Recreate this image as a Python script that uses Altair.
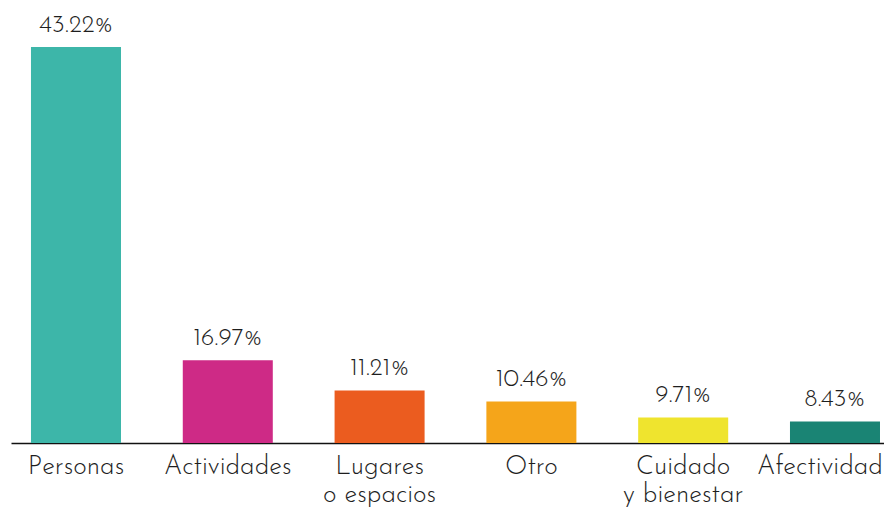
import altair as alt
import pandas as pd

categories = ["Personas", "Actividades", "Lugares|o espacios", "Otro", "Cuidado|y bienestar", "Afectividad"]
values = [43.22, 16.97, 11.21, 10.46, 9.71, 8.43]
# bar lengths as drawn in the reference (not proportional to the values), in % units of the tallest bar
drawn_length = [43.22, 9.02, 5.74, 4.54, 2.79, 2.35]
labels = ["43.22%", "16.97%", "11.21%", "10.46%", "9.71%", "8.43%"]
colors = ["#3DB6A9", "#CE2A86", "#EB5C1F", "#F5A51A", "#EFE42E", "#1A8474"]

df = pd.DataFrame({"cat": categories, "val": values, "len": drawn_length, "lab": labels})

FONT = "Josefin Sans, Lato, Open Sans, sans-serif"
last_test = "datum.value == 'Afectividad'"

x = alt.X("cat:N", sort=categories, title=None,
          scale=alt.Scale(paddingInner=0.407, paddingOuter=0.079, align=0.833),
          axis=alt.Axis(labelExpr="split(datum.label, '|')", labelAngle=0, ticks=False,
                        domainColor="#111111", domainWidth=1.5, labelColor="#1e1e1e",
                        labelFont=FONT, labelFontSize=26, labelFontWeight=300,
                        labelAlign={"condition": {"test": last_test, "value": "right"}, "value": "center"},
                        labelOffset={"condition": {"test": last_test, "value": 48}, "value": 0},
                        labelPadding=9, labelLineHeight=28, labelOverlap=False))
y = alt.Y("len:Q", axis=None, scale=alt.Scale(domain=[0, 47.48], nice=False, zero=True))

bars = alt.Chart(df).mark_bar().encode(
    x=x, y=y,
    color=alt.Color("cat:N", sort=categories, scale=alt.Scale(domain=categories, range=colors), legend=None),
)
text = alt.Chart(df).mark_text(baseline="alphabetic", dy=-15, font=FONT, fontSize=25,
                               fontWeight=300, color="#1e1e1e").encode(
    x=alt.X("cat:N", sort=categories), y="len:Q", text="lab:N")

chart = (bars + text).properties(
    width=873, height=435,
    autosize=alt.AutoSizeParams(type="none"),
    padding={"left": 3, "top": 0, "right": 0, "bottom": 66},
).configure_view(stroke=None)

chart.save("out.html", embed_options={"renderer": "svg", "actions": False})
